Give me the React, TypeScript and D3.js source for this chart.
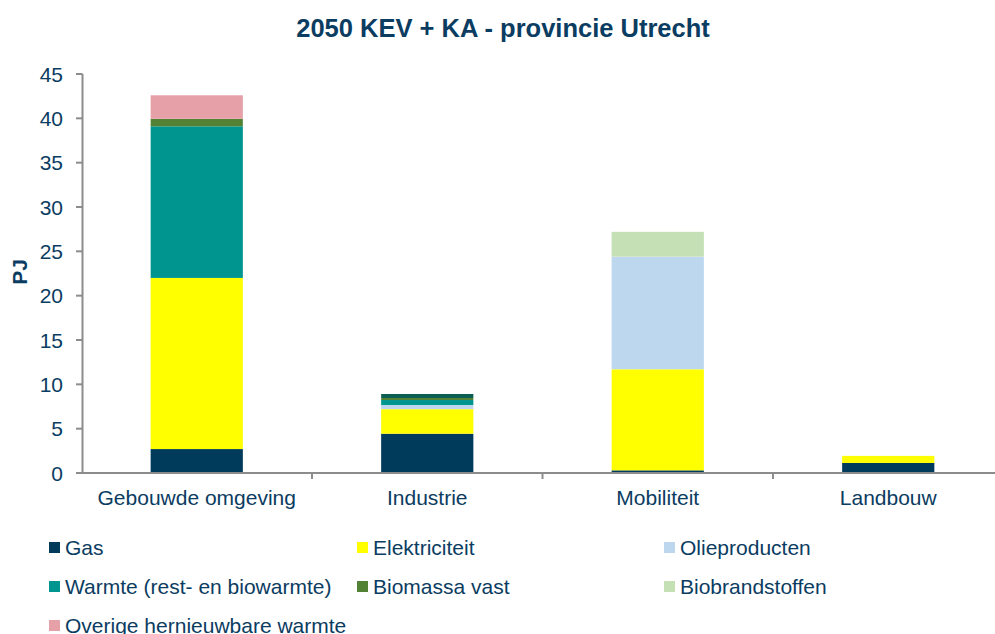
import React from "react";
import * as d3 from "d3";

const categories = ["Gebouwde omgeving", "Industrie", "Mobiliteit", "Landbouw"];
const seriesNames = [
  "Gas",
  "Elektriciteit",
  "Olieproducten",
  "Warmte (rest- en biowarmte)",
  "Biomassa vast",
  "Biobrandstoffen",
  "Overige hernieuwbare warmte",
  "Overig",
];
const seriesColors = ["#003b5c", "#ffff00", "#bdd7ee", "#00968f", "#548235", "#c5e0b4", "#e6a0a8", "#0b5f52"];
const inLegend = [true, true, true, true, true, true, true, false];
// values per series, in category order
const gas = [2.7, 4.43, 0.3, 1.13];
const elektriciteit = [19.3, 2.77, 11.4, 0.8];
const olieproducten = [0, 0.47, 12.7, 0];
const warmte = [17.1, 0.56, 0, 0];
const biomassaVast = [0.85, 0.23, 0, 0];
const biobrandstoffen = [0, 0, 2.8, 0];
const overigeWarmte = [2.65, 0, 0, 0];
const overig = [0, 0.45, 0, 0];
const yTicks = [0, 5, 10, 15, 20, 25, 30, 35, 40, 45];

const seriesValues = [gas, elektriciteit, olieproducten, warmte, biomassaVast, biobrandstoffen, overigeWarmte, overig];

const W = 995;
const H = 634;
const textColor = "#0b3c61";
const axisColor = "#8c8c8c";
const font = "Arial, 'Liberation Sans', sans-serif";

export default function App() {
  const x = d3.scaleBand<string>().domain(categories).range([81.5, 1003.5]).padding(0);
  const y = d3.scaleLinear().domain([0, 45]).range([473, 74]);
  const barW = x.bandwidth() * 0.4;

  const rows = categories.map((c, i) => {
    const r: any = { cat: c };
    seriesNames.forEach((s, j) => (r[s] = seriesValues[j][i]));
    return r;
  });
  const stack = d3.stack<any>().keys(seriesNames)(rows);

  const legendCols = [49, 357, 664];
  const legendRows = [542, 581, 620];
  const legendItems = seriesNames.map((s, i) => ({ s, i })).filter((d) => inLegend[d.i]);

  return (
    <svg width={W} height={H} style={{ position: "fixed", left: 0, top: 0, background: "#fff" }} fontFamily={font}>
      <rect x={0} y={0} width={W} height={H} fill="#fff" />
      <text x={503} y={37} textAnchor="middle" fontWeight="bold" fontSize={25.5} fill={textColor}>
        2050 KEV + KA - provincie Utrecht
      </text>
      {stack.map((layer, j) => (
        <g key={j} fill={seriesColors[j]}>
          {layer.map((d, i) =>
            d[1] - d[0] > 0 ? (
              <rect
                key={i}
                x={(x(categories[i]) as number) + (x.bandwidth() - barW) / 2}
                y={y(d[1])}
                width={barW}
                height={y(d[0]) - y(d[1])}
              />
            ) : null
          )}
        </g>
      ))}
      {/* y axis */}
      <line x1={82.5} x2={82.5} y1={y(45)} y2={y(0)} stroke={axisColor} strokeWidth={2} />
      {yTicks.map((t) => (
        <g key={t}>
          <line x1={76} x2={82.5} y1={y(t)} y2={y(t)} stroke={axisColor} strokeWidth={2} />
          <text x={63} y={y(t) + 7.5} textAnchor="end" fontSize={21} fill={textColor}>
            {t}
          </text>
        </g>
      ))}
      {/* x axis */}
      <line x1={76} x2={W} y1={y(0)} y2={y(0)} stroke={axisColor} strokeWidth={2} />
      {categories.slice(1).map((c) => (
        <line key={c} x1={x(c) as number} x2={x(c) as number} y1={y(0)} y2={y(0) + 6} stroke={axisColor} strokeWidth={2} />
      ))}
      {categories.map((c) => (
        <text key={c} x={(x(c) as number) + x.bandwidth() / 2} y={505} textAnchor="middle" fontSize={21} fill={textColor}>
          {c}
        </text>
      ))}
      <text
        transform={`translate(27,272) rotate(-90)`}
        textAnchor="middle"
        fontWeight="bold"
        fontSize={21}
        fill={textColor}
      >
        PJ
      </text>
      {/* legend */}
      {legendItems.map((d, k) => {
        const cx = legendCols[k % 3];
        const cy = legendRows[Math.floor(k / 3)];
        return (
          <g key={d.s}>
            <rect x={cx} y={cy} width={11} height={11} fill={seriesColors[d.i]} />
            <text x={cx + 16} y={cy + 12.5} fontSize={21} fill={textColor}>
              {d.s}
            </text>
          </g>
        );
      })}
    </svg>
  );
}
